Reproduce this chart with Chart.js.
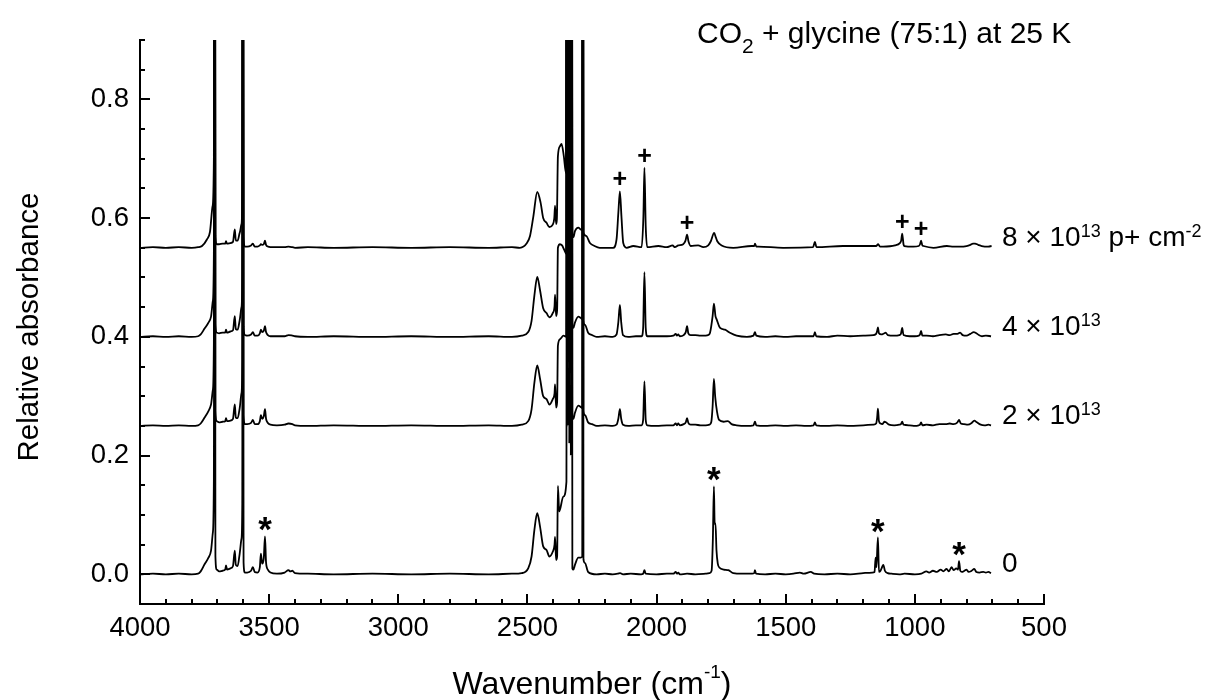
<!DOCTYPE html>
<html>
<head>
<meta charset="utf-8">
<script src="https://cdn.jsdelivr.net/npm/chart.js@4.4.1/dist/chart.umd.min.js"></script>
<style>
html,body{margin:0;padding:0;background:#fff;}
canvas{display:block;}
</style>
</head>
<body>
<canvas id="c" width="1206" height="700"></canvas>
<script>
// ---------------- DATA ----------------
const xTickLabels = [4000, 3500, 3000, 2500, 2000, 1500, 1000, 500];
const yTickLabels = [0.0, 0.2, 0.4, 0.6, 0.8];
const fluences = ['0', '2 × 10^13', '4 × 10^13', '8 × 10^13 p+ cm^-2'];
const offsets = [0.00, 0.25, 0.40, 0.55];

// [wavenumber (cm-1), relative absorbance above the trace's offset]
const spec0 = [
[4000,0.000],[3950,0.001],[3900,0.000],[3850,0.001],[3800,0.000],[3775,0.001],
[3765,0.005],[3750,0.017],[3735,0.028],[3725,0.040],[3718,0.070],[3714,0.160],[3711,1.6],[3708,0.030],[3703,0.008],
[3694,0.005],[3680,0.006],[3670,0.008],[3667,0.015],[3663,0.008],[3650,0.010],[3640,0.014],[3633,0.040],[3629,0.016],[3622,0.014],[3614,0.035],[3607,0.060],[3604,0.120],[3602,1.6],[3599,0.020],[3594,0.003],
[3585,0.003],[3570,0.006],[3563,0.012],[3556,0.004],[3545,0.003],[3536,0.012],[3532,0.035],[3527,0.018],[3521,0.026],[3516,0.064],[3512,0.020],[3505,0.008],[3495,0.003],[3470,0.001],[3440,0.003],[3425,0.007],[3418,0.005],[3410,0.006],[3400,0.002],[3350,0.001],[3250,0.000],[3100,0.001],[2950,0.000],[2800,0.001],[2650,0.000],[2560,0.001],
[2522,0.002],[2497,0.010],[2484,0.030],[2473,0.075],[2462,0.103],[2451,0.080],[2439,0.047],[2426,0.041],[2415,0.030],[2402,0.038],[2395,0.050],[2393,0.063],[2389,0.024],[2385,0.030],[2382,0.149],[2377,0.106],[2361,0.131],[2349,0.156],
[2347,1.6],[2344,0.25],[2341,1.6],[2338,0.22],[2335,1.6],[2332,0.20],[2329,1.6],[2326,0.010],[2322,0.008],
[2316,0.016],[2303,0.028],[2294,0.028],[2288,0.030],[2285.5,1.6],[2283,0.025],[2277,0.019],[2265,0.004],[2232,0.000],[2200,0.001],
[2170,0.000],[2150,0.001],[2141,0.002],[2130,0.000],[2100,0.001],[2060,0.000],[2052,0.001],[2047,0.007],[2042,0.001],[2000,0.000],[1960,0.001],[1935,0.001],[1926,0.004],[1921,0.001],[1916,0.003],[1910,0.000],[1882,0.001],[1850,0.000],[1810,0.001],[1795,0.002],[1787,0.006],[1782,0.060],[1778,0.148],[1775,0.084],[1772,0.086],[1768,0.040],[1763,0.018],[1756,0.011],[1740,0.008],[1722,0.007],[1703,0.002],[1670,0.001],[1630,0.001],[1622,0.002],[1619,0.007],[1615,0.001],[1580,0.000],[1540,0.001],[1500,0.000],[1470,0.001],[1445,0.003],[1430,0.001],[1403,0.004],[1390,0.001],[1350,0.000],[1300,0.001],[1250,0.000],[1200,0.002],[1165,0.003],[1156,0.004],[1152,0.028],[1149,0.012],[1143,0.062],[1139,0.004],[1133,0.006],[1128,0.011],[1122,0.016],[1116,0.006],[1105,0.002],[1090,0.001],[1060,0.000],[1040,0.001],[1000,0.000],[975,0.001],[955,0.005],[945,0.003],[930,0.006],[915,0.004],[900,0.008],[890,0.005],[877,0.009],[868,0.005],[858,0.012],[850,0.007],[840,0.010],[833,0.008],[829,0.022],[824,0.006],[818,0.004],[808,0.006],[800,0.008],[792,0.004],[780,0.006],[770,0.009],[762,0.004],[750,0.003],[735,0.004],[725,0.003],[715,0.004],[705,0.002]
];

const spec2e13 = [
[4000,0.000],[3950,0.001],[3900,0.000],[3850,0.001],[3800,0.000],[3775,0.001],
[3765,0.004],[3750,0.014],[3735,0.025],[3725,0.036],[3718,0.060],[3714,0.140],[3711,1.6],[3708,0.025],[3703,0.008],
[3694,0.006],[3680,0.007],[3670,0.008],[3667,0.013],[3663,0.008],[3650,0.009],[3640,0.012],[3633,0.036],[3629,0.014],[3622,0.013],[3614,0.030],[3607,0.055],[3604,0.110],[3602,1.6],[3599,0.018],[3594,0.003],
[3585,0.003],[3570,0.005],[3563,0.010],[3556,0.003],[3545,0.003],[3536,0.008],[3532,0.018],[3527,0.012],[3521,0.016],[3516,0.028],[3512,0.012],[3505,0.005],[3495,0.002],[3470,0.001],[3440,0.002],[3425,0.004],[3410,0.003],[3400,0.001],[3350,0.000],[3250,0.001],[3100,0.000],[2950,0.001],[2800,0.000],[2650,0.001],[2560,0.000],
[2522,0.002],[2497,0.008],[2484,0.028],[2473,0.073],[2462,0.102],[2451,0.079],[2439,0.050],[2426,0.045],[2415,0.036],[2402,0.045],[2395,0.055],[2393,0.070],[2389,0.031],[2385,0.040],[2382,0.135],[2374,0.146],[2360,0.152],[2350,0.150],
[2347,1.6],[2344,0.30],[2341,1.6],[2338,0.28],[2335,1.6],[2332,0.26],[2329,1.6],[2326,0.015],[2322,0.012],
[2316,0.022],[2303,0.034],[2294,0.032],[2288,0.030],[2285.5,1.6],[2283,0.025],[2277,0.018],[2265,0.006],[2250,0.003],[2232,0.000],[2200,0.001],
[2170,0.000],[2155,0.002],[2148,0.012],[2142,0.028],[2137,0.012],[2130,0.002],[2110,0.000],[2080,0.001],[2058,0.001],[2052,0.010],[2047,0.075],[2042,0.010],[2036,0.001],[2000,0.000],[1960,0.001],[1935,0.001],[1926,0.004],[1921,0.001],[1916,0.004],[1910,0.001],[1895,0.003],[1887,0.006],[1882,0.013],[1877,0.005],[1868,0.002],[1850,0.002],[1830,0.001],[1810,0.001],[1795,0.002],[1788,0.007],[1783,0.033],[1778,0.079],[1773,0.049],[1766,0.024],[1758,0.010],[1740,0.007],[1724,0.008],[1710,0.003],[1690,0.001],[1650,0.000],[1625,0.001],[1619,0.007],[1614,0.001],[1580,0.000],[1540,0.001],[1500,0.000],[1460,0.001],[1420,0.000],[1392,0.001],[1387,0.006],[1382,0.001],[1340,0.000],[1300,0.001],[1250,0.000],[1200,0.001],[1160,0.002],[1150,0.004],[1146,0.014],[1143,0.029],[1139,0.008],[1133,0.004],[1126,0.003],[1118,0.007],[1112,0.006],[1100,0.002],[1080,0.001],[1060,0.002],[1054,0.003],[1049,0.007],[1044,0.002],[1020,0.001],[1000,0.000],[985,0.001],[980,0.002],[976,0.006],[971,0.001],[955,0.002],[930,0.001],[905,0.003],[880,0.003],[865,0.004],[850,0.003],[835,0.006],[829,0.010],[822,0.004],[810,0.003],[795,0.002],[780,0.005],[770,0.009],[760,0.006],[745,0.002],[730,0.001],[715,0.002],[705,0.001]
];

const spec4e13 = [
[4000,0.000],[3950,0.001],[3900,0.000],[3850,0.001],[3800,0.000],[3775,0.001],
[3765,0.004],[3750,0.014],[3735,0.024],[3725,0.034],[3718,0.060],[3714,0.140],[3711,1.6],[3708,0.022],[3703,0.007],
[3694,0.006],[3680,0.007],[3670,0.007],[3667,0.012],[3663,0.007],[3650,0.009],[3640,0.011],[3633,0.035],[3629,0.013],[3622,0.012],[3614,0.028],[3607,0.050],[3604,0.105],[3602,1.6],[3599,0.018],[3594,0.003],
[3585,0.002],[3570,0.004],[3563,0.008],[3556,0.002],[3545,0.002],[3536,0.006],[3532,0.012],[3527,0.008],[3521,0.010],[3516,0.018],[3512,0.008],[3505,0.003],[3495,0.001],[3440,0.001],[3425,0.003],[3410,0.002],[3400,0.001],[3350,0.000],[3250,0.001],[3100,0.000],[2950,0.001],[2800,0.000],[2650,0.001],[2560,0.000],
[2522,0.002],[2497,0.008],[2484,0.027],[2473,0.070],[2462,0.101],[2451,0.078],[2439,0.048],[2426,0.040],[2415,0.033],[2402,0.040],[2395,0.052],[2393,0.071],[2389,0.035],[2385,0.045],[2382,0.150],[2374,0.156],[2366,0.154],[2358,0.147],[2350,0.140],
[2347,1.6],[2344,0.35],[2341,1.6],[2338,0.33],[2335,1.6],[2332,0.31],[2329,1.6],[2326,0.018],[2322,0.015],
[2316,0.024],[2303,0.034],[2294,0.032],[2288,0.030],[2285.5,1.6],[2283,0.026],[2277,0.020],[2265,0.007],[2250,0.003],[2232,0.000],[2200,0.001],
[2170,0.000],[2155,0.004],[2148,0.025],[2142,0.054],[2137,0.025],[2130,0.003],[2110,0.000],[2080,0.001],[2058,0.001],[2052,0.015],[2047,0.109],[2042,0.015],[2036,0.001],[2000,0.001],[1960,0.001],[1935,0.002],[1926,0.005],[1921,0.002],[1916,0.004],[1910,0.001],[1895,0.003],[1887,0.008],[1882,0.018],[1877,0.006],[1868,0.003],[1850,0.003],[1830,0.002],[1810,0.002],[1800,0.003],[1793,0.007],[1783,0.035],[1778,0.056],[1772,0.035],[1767,0.029],[1754,0.015],[1735,0.012],[1716,0.007],[1690,0.002],[1650,0.000],[1625,0.002],[1619,0.008],[1614,0.002],[1580,0.000],[1540,0.001],[1500,0.000],[1460,0.001],[1420,0.001],[1392,0.001],[1387,0.008],[1382,0.001],[1340,0.000],[1300,0.002],[1250,0.001],[1200,0.002],[1160,0.003],[1150,0.005],[1146,0.010],[1143,0.016],[1139,0.006],[1130,0.004],[1118,0.006],[1113,0.007],[1105,0.003],[1080,0.002],[1060,0.003],[1054,0.005],[1049,0.015],[1044,0.003],[1020,0.001],[1000,0.001],[985,0.002],[980,0.004],[976,0.010],[971,0.002],[955,0.002],[930,0.001],[905,0.003],[880,0.004],[865,0.003],[850,0.005],[835,0.005],[825,0.007],[815,0.003],[800,0.002],[785,0.005],[772,0.008],[765,0.007],[752,0.003],[740,0.001],[725,0.002],[705,0.001]
];

const spec8e13 = [
[4000,0.000],[3950,0.001],[3900,0.000],[3850,0.001],[3800,0.000],[3775,0.001],
[3760,0.003],[3741,0.014],[3729,0.027],[3719,0.070],[3714,0.150],[3711,1.6],[3708,0.020],[3703,0.006],
[3694,0.006],[3680,0.007],[3670,0.007],[3667,0.011],[3663,0.007],[3650,0.008],[3640,0.010],[3633,0.031],[3629,0.012],[3622,0.012],[3614,0.025],[3607,0.040],[3604,0.100],[3602,1.6],[3599,0.018],[3594,0.002],
[3585,0.002],[3570,0.004],[3563,0.007],[3556,0.002],[3545,0.002],[3536,0.004],[3532,0.006],[3527,0.005],[3521,0.006],[3516,0.012],[3512,0.005],[3505,0.002],[3495,0.001],[3440,0.001],[3425,0.002],[3410,0.001],[3400,0.000],[3350,0.001],[3250,0.000],[3100,0.001],[2950,0.000],[2800,0.001],[2650,0.000],[2560,0.001],
[2529,0.000],[2502,0.008],[2490,0.020],[2477,0.053],[2462,0.094],[2449,0.076],[2439,0.050],[2426,0.042],[2415,0.035],[2402,0.039],[2396,0.050],[2393,0.071],[2389,0.040],[2386,0.048],[2382,0.154],[2374,0.171],[2368,0.175],[2359,0.154],[2351,0.126],
[2347,1.6],[2344,0.40],[2341,1.6],[2338,0.38],[2335,1.6],[2332,0.36],[2329,1.6],[2326,0.020],[2322,0.018],
[2316,0.028],[2303,0.034],[2294,0.031],[2288,0.030],[2285.5,1.6],[2283,0.026],[2273,0.020],[2258,0.008],[2240,0.003],[2220,0.000],
[2168,0.000],[2155,0.014],[2148,0.059],[2142,0.095],[2136,0.053],[2129,0.008],[2116,0.000],[2090,0.003],[2058,0.001],[2051,0.053],[2047,0.135],[2042,0.036],[2036,0.001],[1993,0.003],[1961,0.001],[1938,0.004],[1929,0.001],[1916,0.004],[1897,0.006],[1888,0.012],[1882,0.022],[1876,0.010],[1868,0.003],[1839,0.004],[1819,0.001],[1800,0.004],[1790,0.011],[1777,0.025],[1771,0.018],[1765,0.011],[1748,0.004],[1703,0.000],[1632,0.003],[1622,0.003],[1619,0.007],[1614,0.002],[1606,0.002],[1510,0.000],[1394,0.001],[1387,0.010],[1381,0.001],[1278,0.003],[1200,0.003],[1150,0.003],[1142,0.006],[1135,0.002],[1123,0.002],[1077,0.004],[1058,0.008],[1053,0.012],[1049,0.024],[1044,0.006],[1041,0.003],[1006,0.002],[985,0.003],[980,0.006],[976,0.012],[971,0.004],[967,0.003],[928,0.000],[876,0.003],[850,0.002],[825,0.002],[800,0.003],[785,0.005],[775,0.007],[767,0.007],[755,0.005],[741,0.003],[716,0.002],[703,0.003]
];

// peak markers: [series index, wavenumber, symbol]
const markerSeries = [3, 3, 3, 3, 3, 0, 0, 0, 0];
const markerWavenumbers = [2142, 2047, 1882, 1049, 976, 3516, 1778, 1143, 829];
const markerSymbols = ['+', '+', '+', '+', '+', '*', '*', '*', '*'];

// text pieces (alternating normal / raised-or-lowered)
const titlePieces = ['CO', '2', ' + glycine (75:1) at 25 K'];
const xTitlePieces = ['Wavenumber (cm', '-1', ')'];
const yTitle = 'Relative absorbance';
const seriesLabelPieces = [['0'], ['2 × 10', '13'], ['4 × 10', '13'], ['8 × 10', '13', ' p+ cm', '-2']];

// ---------------- CHART ----------------
const FONT = "'Liberation Sans', Arial, Helvetica, sans-serif";
const spectra = [spec0, spec2e13, spec4e13, spec8e13];

const tickPlugin = {
  id: 'insideTicks',
  afterDraw(chart) {
    const {ctx, chartArea: a, scales: {x, y}} = chart;
    ctx.save();
    ctx.strokeStyle = '#000';
    ctx.lineWidth = 2;
    ctx.lineCap = 'butt';
    for (let v = 500; v <= 4000; v += 100) {
      const px = Math.round(x.getPixelForValue(v));
      const len = (v % 500 === 0) ? 10 : 5;
      ctx.beginPath(); ctx.moveTo(px, a.bottom); ctx.lineTo(px, a.bottom - len); ctx.stroke();
    }
    for (let k = 0; k <= 18; k++) {
      const v = k * 0.05;
      const py = Math.round(y.getPixelForValue(v));
      const len = (k % 4 === 0) ? 10 : 5;
      ctx.beginPath(); ctx.moveTo(a.left, py); ctx.lineTo(a.left + len, py); ctx.stroke();
    }
    ctx.restore();
  }
};

function drawPieces(ctx, x, y, pieces, styles) {
  let cx = x;
  pieces.forEach((t, i) => {
    const s = styles[i % 2];
    ctx.font = s.size + 'px ' + FONT;
    ctx.fillText(t, cx, y + s.dy);
    cx += ctx.measureText(t).width;
  });
  return cx - x;
}
function measurePieces(ctx, pieces, styles) {
  let w = 0;
  pieces.forEach((t, i) => { ctx.font = styles[i % 2].size + 'px ' + FONT; w += ctx.measureText(t).width; });
  return w;
}

const textPlugin = {
  id: 'texts',
  afterDraw(chart) {
    const {ctx, chartArea: a, scales: {x, y}} = chart;
    ctx.save();
    ctx.fillStyle = '#000';
    ctx.textBaseline = 'alphabetic';
    ctx.textAlign = 'left';

    // title
    drawPieces(ctx, 697, 43, titlePieces, [{size: 30, dy: 0}, {size: 21, dy: 10}]);

    // x-axis title
    const xs = [{size: 32, dy: 0}, {size: 19, dy: -16}];
    const w = measurePieces(ctx, xTitlePieces, xs);
    drawPieces(ctx, (a.left + a.right) / 2 - w / 2, 694, xTitlePieces, xs);

    // y-axis title
    ctx.save();
    ctx.translate(38, (a.top + a.bottom) / 2 + 5);
    ctx.rotate(-Math.PI / 2);
    ctx.textAlign = 'center';
    ctx.font = '29.5px ' + FONT;
    ctx.fillText(yTitle, 0, 0);
    ctx.restore();

    // series labels
    seriesLabelPieces.forEach((pieces, i) => {
      const py = y.getPixelForValue(offsets[i]) - 2;
      drawPieces(ctx, 1002, py, pieces, [{size: 28, dy: 0}, {size: 18, dy: -9}]);
    });

    // peak markers
    ctx.textAlign = 'center';
    markerWavenumbers.forEach((wn, i) => {
      const si = markerSeries[i];
      let top = -Infinity;
      spectra[si].forEach(p => { if (Math.abs(p[0] - wn) <= 4) top = Math.max(top, p[1]); });
      const cx = x.getPixelForValue(wn);
      const peakPx = y.getPixelForValue(offsets[si] + top);
      const sym = markerSymbols[i];
      ctx.font = (sym === '*' ? 'bold 35px ' : 'bold 25px ') + FONT;
      const m = ctx.measureText(sym);
      const cy = peakPx - (sym === '*' ? 12 : 13);
      const base = cy + (m.actualBoundingBoxAscent - m.actualBoundingBoxDescent) / 2;
      ctx.fillText(sym, cx, base);
    });
    ctx.restore();
  }
};

const tickFont = {family: FONT, size: 27.5};

new Chart(document.getElementById('c'), {
  type: 'scatter',
  data: {
    datasets: spectra.map((s, i) => ({
      label: fluences[i],
      data: s.map(p => ({x: p[0], y: p[1] + offsets[i]})),
      showLine: true,
      borderColor: '#000',
      backgroundColor: '#000',
      borderWidth: 1.8,
      pointRadius: 0,
      pointHoverRadius: 0,
      cubicInterpolationMode: 'monotone',
      fill: false
    }))
  },
  options: {
    responsive: false,
    animation: false,
    devicePixelRatio: 1,
    events: [],
    layout: {padding: {left: 0, right: 162, top: 40, bottom: 0}},
    plugins: {legend: {display: false}, tooltip: {enabled: false}, title: {display: false}},
    scales: {
      x: {
        type: 'linear', position: 'bottom', reverse: true, min: 500, max: 4000,
        afterBuildTicks: s => { s.ticks = xTickLabels.map(v => ({value: v})); },
        afterFit: s => { s.height = 96; },
        grid: {display: false, drawTicks: false},
        border: {display: true, color: '#000', width: 2},
        ticks: {color: '#000', font: tickFont, padding: 8, maxRotation: 0, autoSkip: false,
                callback: v => String(v)}
      },
      y: {
        type: 'linear', position: 'left', min: -0.05, max: 0.9,
        afterBuildTicks: s => { s.ticks = yTickLabels.map(v => ({value: v})); },
        afterFit: s => { s.width = 140; },
        grid: {display: false, drawTicks: false},
        border: {display: true, color: '#000', width: 2},
        ticks: {color: '#000', font: tickFont, padding: 11, autoSkip: false,
                callback: v => Number(v).toFixed(1)}
      }
    }
  },
  plugins: [tickPlugin, textPlugin]
});
</script>
</body>
</html>
